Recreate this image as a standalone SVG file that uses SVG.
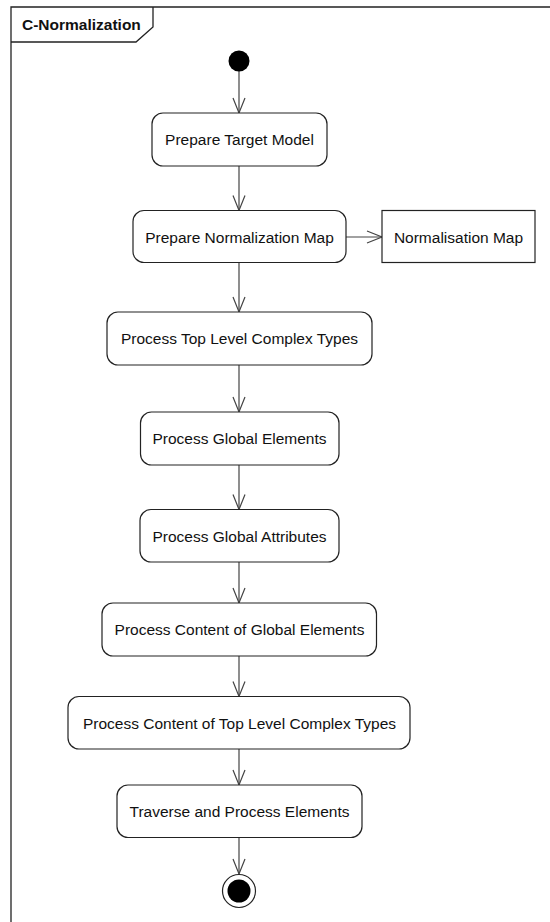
<svg xmlns="http://www.w3.org/2000/svg" width="550" height="922" viewBox="0 0 550 922">
  <style>
    .frame { fill: none; stroke: #222; stroke-width: 1.3; }
    .action { fill: #fff; stroke: #222; stroke-width: 1.2; }
    .object { fill: #fff; stroke: #222; stroke-width: 1.2; }
    .label { font-family: "Liberation Sans", Arial, sans-serif; font-size: 15.5px; fill: #111; text-anchor: middle; }
    .title { font-family: "Liberation Sans", Arial, sans-serif; font-size: 15.5px; font-weight: bold; fill: #111; }
    .flow { fill: none; stroke: #444; stroke-width: 1.2; }
  </style>
  <defs>
    <marker id="open-arrow" markerUnits="userSpaceOnUse" markerWidth="20" markerHeight="16" viewBox="-16 -8 18 16" refX="0" refY="0" orient="auto">
      <path d="M -15 -6 L 0 0 L -15 6" fill="none" stroke="#444" stroke-width="1.2"/>
    </marker>
  </defs>

  <rect width="550" height="922" fill="#fff"/>

  <!-- activity frame with name tab -->
  <g id="frame">
    <path class="frame" d="M 11 922 L 11 7 L 550 7"/>
    <path class="frame" d="M 11 42 L 136 42 L 153 27 L 153 7"/>
    <text class="title" x="22" y="30">C-Normalization</text>
  </g>

  <!-- control flows -->
  <g id="connectors">
    <line class="flow" x1="239" y1="71" x2="239" y2="113" marker-end="url(#open-arrow)"/>
    <line class="flow" x1="239" y1="166" x2="239" y2="210.5" marker-end="url(#open-arrow)"/>
    <line class="flow" x1="346" y1="237" x2="382" y2="237" marker-end="url(#open-arrow)"/>
    <line class="flow" x1="239" y1="262.5" x2="239" y2="312" marker-end="url(#open-arrow)"/>
    <line class="flow" x1="239" y1="365" x2="239" y2="412" marker-end="url(#open-arrow)"/>
    <line class="flow" x1="239" y1="465" x2="239" y2="509.5" marker-end="url(#open-arrow)"/>
    <line class="flow" x1="239" y1="562" x2="239" y2="603" marker-end="url(#open-arrow)"/>
    <line class="flow" x1="239" y1="656" x2="239" y2="696.5" marker-end="url(#open-arrow)"/>
    <line class="flow" x1="239" y1="749" x2="239" y2="785" marker-end="url(#open-arrow)"/>
    <line class="flow" x1="239" y1="837.5" x2="239" y2="874" marker-end="url(#open-arrow)"/>
  </g>

  <g id="initial">
    <circle cx="239" cy="61" r="10.5" fill="#000"/>
  </g>

  <g id="prepare-target-model">
    <rect class="action" x="152" y="113" width="175" height="53" rx="11"/>
    <text class="label" x="239.5" y="145">Prepare Target Model</text>
  </g>

  <g id="prepare-normalization-map">
    <rect class="action" x="133" y="210.5" width="213" height="52" rx="11"/>
    <text class="label" x="239.5" y="242.5">Prepare Normalization Map</text>
  </g>

  <g id="normalisation-map">
    <rect class="object" x="382" y="210.5" width="153" height="52"/>
    <text class="label" x="458.5" y="242.5">Normalisation Map</text>
  </g>

  <g id="process-top-level-complex-types">
    <rect class="action" x="107" y="312" width="265" height="53" rx="11"/>
    <text class="label" x="239.5" y="344">Process Top Level Complex Types</text>
  </g>

  <g id="process-global-elements">
    <rect class="action" x="140.5" y="412" width="198.5" height="53" rx="11"/>
    <text class="label" x="239.5" y="444">Process Global Elements</text>
  </g>

  <g id="process-global-attributes">
    <rect class="action" x="140" y="509.5" width="199" height="52.5" rx="11"/>
    <text class="label" x="239.5" y="541.5">Process Global Attributes</text>
  </g>

  <g id="process-content-of-global-elements">
    <rect class="action" x="102" y="603" width="274.5" height="53" rx="11"/>
    <text class="label" x="239.5" y="635">Process Content of Global Elements</text>
  </g>

  <g id="process-content-of-top-level-complex-types">
    <rect class="action" x="68" y="696.5" width="342" height="52.5" rx="11"/>
    <text class="label" x="239.5" y="728.5">Process Content of Top Level Complex Types</text>
  </g>

  <g id="traverse-and-process-elements">
    <rect class="action" x="117" y="785" width="245" height="52.5" rx="11"/>
    <text class="label" x="239.5" y="817">Traverse and Process Elements</text>
  </g>

  <g id="final">
    <circle cx="239" cy="891" r="16.5" fill="#fff" stroke="#222" stroke-width="1.2"/>
    <circle cx="239" cy="891" r="11.5" fill="#000"/>
  </g>
</svg>
